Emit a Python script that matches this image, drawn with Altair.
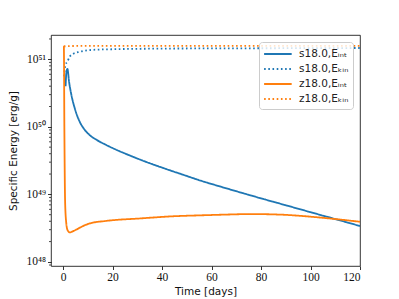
import altair as alt
import pandas as pd

# ---- data ----
t_s18_int = [1.0, 1.3, 1.74, 2.4, 3.35, 4.7, 6.7, 8.5, 10.7, 13.5, 17.5, 22.0, 27.0, 32.0, 40.0, 48.0, 56.0,
             64.0, 72.0, 80.0, 90.0, 100.0, 110.0, 120.0]
E_s18_int = [4.0e50, 6.3e50, 7.2e50, 4.66e50, 2.96e50, 1.88e50, 1.19e50, 9.27e49, 7.57e49, 6.42e49, 5.37e49, 4.49e49,
             3.76e49, 3.18e49, 2.49e49, 1.98e49, 1.58e49, 1.29e49, 1.06e49, 8.73e48, 6.90e48, 5.45e48, 4.31e48, 3.40e48]

t_s18_kin = [0.4, 0.9, 1.7, 2.7, 4.0, 6.7, 12.0, 20.0, 40.0, 60.0, 90.0, 120.0]
E_s18_kin = [5.6e50, 8.2e50, 9.2e50, 1.10e51, 1.20e51, 1.29e51, 1.38e51, 1.41e51, 1.44e51, 1.45e51, 1.46e51, 1.47e51]

t_z18_int = [0.2, 0.3, 0.5, 0.8, 1.2, 1.8, 2.7, 4.0, 5.4, 8.0, 10.7, 17.5, 31.0, 45.0, 56.0, 65.0, 76.0, 88.0, 103.0, 120.0]
E_z18_int = [1.58e51, 1.55e51, 1.0e50, 7.9e48, 4.0e48, 2.95e48, 2.73e48, 2.85e48, 3.02e48, 3.39e48, 3.71e48, 4.05e48,
             4.40e48, 4.75e48, 4.90e48, 5.01e48, 5.11e48, 5.01e48, 4.57e48, 3.93e48]

t_z18_kin = [0.3, 2.0, 10.0, 40.0, 80.0, 120.0]
E_z18_kin = [1.55e51, 1.57e51, 1.58e51, 1.58e51, 1.58e51, 1.58e51]

series_names = ["s18.0,Eᵢₙₜ", "s18.0,Eₖᵢₙ", "z18.0,Eᵢₙₜ", "z18.0,Eₖᵢₙ"]
series_colors = ["#1f77b4", "#1f77b4", "#ff7f0e", "#ff7f0e"]
series_dashes = [[1, 0], [1.6, 2.6], [1, 0], [1.6, 2.6]]

x_ticks = [0, 20, 40, 60, 80, 100, 120]
y_major = [1e48, 1e49, 1e50, 1e51]
y_minor = [9e47,
           2e48, 3e48, 4e48, 5e48, 6e48, 7e48, 8e48, 9e48,
           2e49, 3e49, 4e49, 5e49, 6e49, 7e49, 8e49, 9e49,
           2e50, 3e50, 4e50, 5e50, 6e50, 7e50, 8e50, 9e50,
           2e51]

rows = []
for name, ts, es in zip(series_names,
                        [t_s18_int, t_s18_kin, t_z18_int, t_z18_kin],
                        [E_s18_int, E_s18_kin, E_z18_int, E_z18_kin]):
    rows += [{"t": t, "E": e, "series": name} for t, e in zip(ts, es)]
df = pd.DataFrame(rows)

x_dom = [-4.9, 120]
y_dom = [8.7e47, 2.29e51]

label_expr = ("'10' + (round(log(datum.value)/LN10) == 48 ? '⁴⁸' : "
              "round(log(datum.value)/LN10) == 49 ? '⁴⁹' : "
              "round(log(datum.value)/LN10) == 50 ? '⁵⁰' : '⁵¹')")

y_axis = alt.Axis(values=y_major, labelExpr=label_expr, title="Specific Energy [erg/g]")
y_scale = alt.Scale(type="log", domain=y_dom, nice=False)

legend = alt.Legend(
    title=None, orient="top-right", offset=7,
    symbolType="M-1,0H3", symbolSize=190, symbolStrokeWidth=1.8,
    labelFont="DejaVu Sans", labelFontSize=10.5, labelColor="#222",
    fillColor="rgba(255,255,255,0.8)", strokeColor="#cccccc", cornerRadius=3,
    padding=4, labelOffset=20, rowPadding=1,
)

lines = alt.Chart(df).mark_line(strokeWidth=1.8, interpolate="monotone", clip=True).encode(
    x=alt.X("t:Q", scale=alt.Scale(domain=x_dom, nice=False, zero=False),
            axis=alt.Axis(values=x_ticks, title="Time [days]", format="d")),
    y=alt.Y("E:Q", scale=y_scale, axis=y_axis),
    color=alt.Color("series:N", scale=alt.Scale(domain=series_names, range=series_colors), legend=legend),
    strokeDash=alt.StrokeDash("series:N", scale=alt.Scale(domain=series_names, range=series_dashes), legend=legend),
)

minor = alt.Chart(pd.DataFrame({"E": y_minor})).mark_rule(color="black", strokeWidth=0.7).encode(
    y=alt.Y("E:Q", scale=y_scale, axis=y_axis),
    x=alt.value(0), x2=alt.value(-2),
)

chart = alt.layer(lines, minor).properties(
    width=309, height=231,
    padding={"left": 0, "top": 27, "right": 5, "bottom": 0},
    background="white",
).configure_view(
    stroke="black", strokeWidth=0.8,
).configure_axis(
    domain=False, grid=False, tickColor="black", tickSize=3.5, tickWidth=0.8,
    labelFont="Liberation Serif", labelFontSize=11.5, labelColor="#111", labelPadding=2,
    titleFont="DejaVu Sans", titleFontSize=10.5, titleFontWeight="normal", titleColor="#111",
).configure_axisY(
    titlePadding=7,
).configure_axisX(
    titlePadding=3,
)

chart.save("out.html", embed_options={"renderer": "svg", "actions": False})
